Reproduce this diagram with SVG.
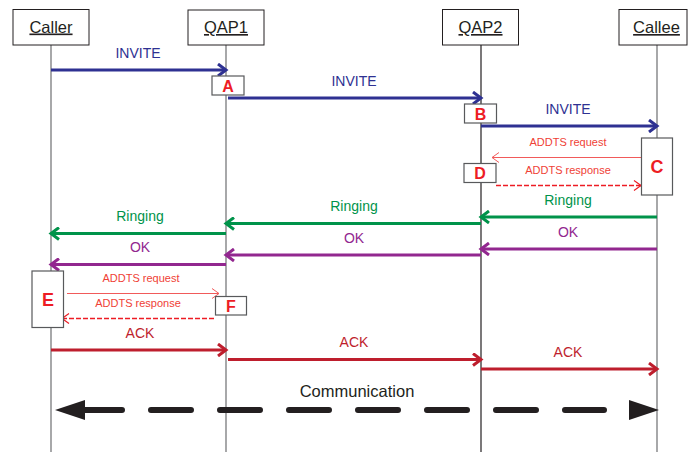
<svg xmlns="http://www.w3.org/2000/svg" width="688" height="452" viewBox="0 0 688 452">
  <style>
    text { font-family: "Liberation Sans", Arial, sans-serif; text-anchor: middle; }
    .head rect { fill: #fff; stroke: #231f20; stroke-width: 1; }
    .head text { font-size: 16.5px; fill: #231f20; text-decoration: underline; }
    .life { stroke: #6d6e71; stroke-width: 1.2; }
    .tag rect { fill: #fff; stroke: #58595b; stroke-width: 1.2; }
    .tag text { font-weight: bold; fill: #ed1c24; font-size: 16px; }
    .msg { fill: none; stroke-width: 3; }
    .lbl { font-size: 14px; }
    .small { font-size: 11px; fill: #ef4136; }
    .invite { stroke: #2e3192; } .t-invite { fill: #2e3192; }
    .ring { stroke: #00934a; } .t-ring { fill: #00934a; }
    .ok { stroke: #92278f; } .t-ok { fill: #92278f; }
    .ack { stroke: #be1e2d; } .t-ack { fill: #be1e2d; }
    .req { fill: none; stroke: #f15a5a; stroke-width: 1; }
    .resp { fill: none; stroke: #ed1c24; stroke-width: 1.5; stroke-dasharray: 5 2; }
  </style>
  <defs>
    <marker id="mInvite" markerUnits="userSpaceOnUse" viewBox="0 0 14 14" refX="11" refY="7" markerWidth="14" markerHeight="14" orient="auto">
      <path d="M3,1 L11,7 L3,13" fill="none" stroke="#2e3192" stroke-width="3"/>
    </marker>
    <marker id="mRing" markerUnits="userSpaceOnUse" viewBox="0 0 14 14" refX="11" refY="7" markerWidth="14" markerHeight="14" orient="auto">
      <path d="M3,1 L11,7 L3,13" fill="none" stroke="#00934a" stroke-width="3"/>
    </marker>
    <marker id="mOk" markerUnits="userSpaceOnUse" viewBox="0 0 14 14" refX="11" refY="7" markerWidth="14" markerHeight="14" orient="auto">
      <path d="M3,1 L11,7 L3,13" fill="none" stroke="#92278f" stroke-width="3"/>
    </marker>
    <marker id="mAck" markerUnits="userSpaceOnUse" viewBox="0 0 14 14" refX="11" refY="7" markerWidth="14" markerHeight="14" orient="auto">
      <path d="M3,1 L11,7 L3,13" fill="none" stroke="#be1e2d" stroke-width="3"/>
    </marker>
    <marker id="mReq" markerUnits="userSpaceOnUse" viewBox="0 0 12 12" refX="10" refY="6" markerWidth="12" markerHeight="12" orient="auto">
      <path d="M3,1 L10,6 L3,11" fill="none" stroke="#f15a5a" stroke-width="1"/>
    </marker>
    <marker id="mResp" markerUnits="userSpaceOnUse" viewBox="0 0 12 12" refX="10" refY="6" markerWidth="12" markerHeight="12" orient="auto">
      <path d="M3,1 L10,6 L3,11" fill="none" stroke="#ed1c24" stroke-width="1.2"/>
    </marker>
  </defs>

  <!-- lifelines -->
  <g id="lifelines">
    <line class="life" x1="51" y1="45" x2="51" y2="452"/>
    <line class="life" x1="226" y1="45" x2="226" y2="452"/>
    <line class="life" x1="481" y1="45" x2="481" y2="452" style="stroke:#231f20"/>
    <line class="life" x1="657" y1="45" x2="657" y2="452"/>
  </g>

  <!-- participants -->
  <g id="caller" class="head">
    <rect x="13" y="9.5" width="76" height="35.5"/>
    <text x="51" y="32.5">Caller</text>
  </g>
  <g id="qap1" class="head">
    <rect x="188" y="10" width="76" height="35"/>
    <text x="226" y="33">QAP1</text>
  </g>
  <g id="qap2" class="head">
    <rect x="442.5" y="9.5" width="76" height="35.5"/>
    <text x="480.5" y="33">QAP2</text>
  </g>
  <g id="callee" class="head">
    <rect x="619" y="9.5" width="68" height="35.5"/>
    <text x="656.5" y="33">Callee</text>
  </g>

  <!-- connectors -->
  <g id="connectors">
    <line class="msg invite" x1="51" y1="70" x2="226" y2="70" marker-end="url(#mInvite)"/>
    <line class="msg invite" x1="228" y1="98" x2="481" y2="98" marker-end="url(#mInvite)"/>
    <line class="msg invite" x1="481" y1="126" x2="657" y2="126" marker-end="url(#mInvite)"/>

    <line class="req" x1="642" y1="157.5" x2="492" y2="157.5" marker-end="url(#mReq)"/>
    <line class="resp" x1="496" y1="185.5" x2="641" y2="185.5" marker-end="url(#mResp)"/>

    <line class="msg ring" x1="657" y1="217" x2="481" y2="217" marker-end="url(#mRing)"/>
    <line class="msg ring" x1="481" y1="223.5" x2="226" y2="223.5" marker-end="url(#mRing)"/>
    <line class="msg ring" x1="226" y1="233.5" x2="51" y2="233.5" marker-end="url(#mRing)"/>

    <line class="msg ok" x1="657" y1="249" x2="481" y2="249" marker-end="url(#mOk)"/>
    <line class="msg ok" x1="481" y1="255" x2="226" y2="255" marker-end="url(#mOk)"/>
    <line class="msg ok" x1="226" y1="264.5" x2="51" y2="264.5" marker-end="url(#mOk)"/>

    <line class="req" x1="67" y1="293.5" x2="219" y2="293.5" marker-end="url(#mReq)"/>
    <line class="resp" x1="214" y1="318.5" x2="62" y2="318.5" marker-end="url(#mResp)"/>

    <line class="msg ack" x1="51" y1="350" x2="226" y2="350" marker-end="url(#mAck)"/>
    <line class="msg ack" x1="228" y1="359.5" x2="481" y2="359.5" marker-end="url(#mAck)"/>
    <line class="msg ack" x1="481" y1="369" x2="657" y2="369" marker-end="url(#mAck)"/>

    <!-- communication span -->
    <path d="M82,410 H604" fill="none" stroke="#231f20" stroke-width="6" stroke-linecap="round" stroke-dasharray="40 29"/>
    <polygon points="55,410 85,400 85,420" fill="#231f20"/>
    <polygon points="659,410 629,400 629,420" fill="#231f20"/>
  </g>

  <!-- process markers -->
  <g id="nodeA" class="tag">
    <rect x="212" y="76" width="32" height="19"/>
    <text x="228" y="91.5">A</text>
  </g>
  <g id="nodeB" class="tag">
    <rect x="464.5" y="104" width="32" height="19"/>
    <text x="480.5" y="119.5">B</text>
  </g>
  <g id="nodeC" class="tag">
    <rect x="641.5" y="138" width="31" height="57"/>
    <text x="657" y="173" style="font-size:18px">C</text>
  </g>
  <g id="nodeD" class="tag">
    <rect x="464" y="163.5" width="32" height="19"/>
    <text x="480" y="179">D</text>
  </g>
  <g id="nodeE" class="tag">
    <rect x="32" y="271" width="31.5" height="56.5"/>
    <text x="48" y="305.5" style="font-size:18px">E</text>
  </g>
  <g id="nodeF" class="tag">
    <rect x="215.5" y="296.5" width="31" height="18.5"/>
    <text x="231" y="312">F</text>
  </g>

  <!-- message labels -->
  <g id="labels">
    <text class="lbl t-invite" x="138" y="58">INVITE</text>
    <text class="lbl t-invite" x="354" y="86">INVITE</text>
    <text class="lbl t-invite" x="568" y="113.5">INVITE</text>
    <text class="small" x="568" y="146">ADDTS request</text>
    <text class="small" x="568" y="173.5">ADDTS response</text>
    <text class="lbl t-ring" x="568" y="205">Ringing</text>
    <text class="lbl t-ring" x="354" y="211">Ringing</text>
    <text class="lbl t-ring" x="140" y="221">Ringing</text>
    <text class="lbl t-ok" x="568" y="237">OK</text>
    <text class="lbl t-ok" x="354" y="243">OK</text>
    <text class="lbl t-ok" x="140" y="252">OK</text>
    <text class="small" x="141" y="281.5">ADDTS request</text>
    <text class="small" x="138" y="306.5">ADDTS response</text>
    <text class="lbl t-ack" x="140" y="338">ACK</text>
    <text class="lbl t-ack" x="354" y="347">ACK</text>
    <text class="lbl t-ack" x="568" y="357">ACK</text>
    <text x="357" y="397" style="font-size:16.5px; fill:#231f20">Communication</text>
  </g>
</svg>
